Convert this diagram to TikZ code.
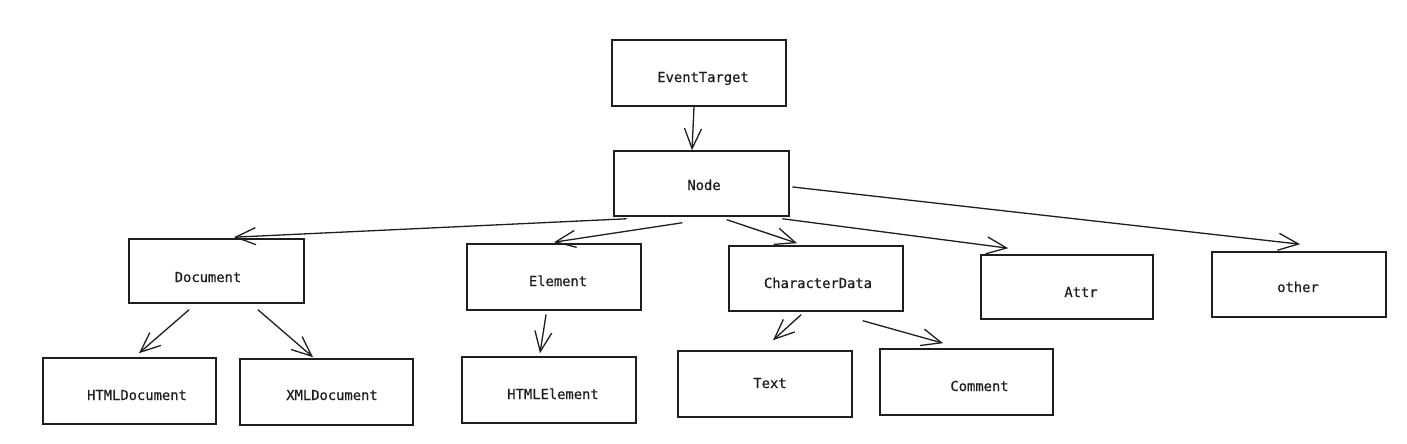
\documentclass[tikz,border=0pt]{standalone}
\usepackage{fontspec}
\setmonofont[FakeBold=0.6]{DejaVu Sans Mono}
\usetikzlibrary{arrows.meta}
\definecolor{ink}{HTML}{1E1E1E}
\tikzset{
  box/.style={draw=ink, line width=1.6pt, inner sep=0pt, fill=white},
  lbl/.style={anchor=base, inner sep=0pt, text=ink, font=\ttfamily\fontsize{13.8}{16}\selectfont},
  conn/.style={draw=ink, line width=1.3pt, line cap=round, line join=round,
    -{Straight Barb[length=20pt, width=17pt, line width=1.3pt]}}
}
\begin{document}
\begin{tikzpicture}[x=1pt, y=-1pt]
\useasboundingbox[fill=white] (0,0) rectangle (1407,444);
% boxes
\node[box, minimum width=174pt, minimum height=66pt] (et)   at (699,73)     {};
\node[box, minimum width=175pt, minimum height=65pt] (nd)   at (701.5,183.5) {};
\node[box, minimum width=175pt, minimum height=64pt] (doc)  at (216.5,271)  {};
\node[box, minimum width=173pt, minimum height=66pt] (hdoc) at (129.5,391)  {};
\node[box, minimum width=173pt, minimum height=66pt] (xdoc) at (326.5,392)  {};
\node[box, minimum width=174pt, minimum height=66pt] (el)   at (554,277)    {};
\node[box, minimum width=174pt, minimum height=66pt] (hel)  at (549,390)    {};
\node[box, minimum width=174pt, minimum height=65pt] (cd)   at (816,278.5)  {};
\node[box, minimum width=174pt, minimum height=66pt] (txt)  at (765,384)    {};
\node[box, minimum width=173pt, minimum height=66pt] (com)  at (966.5,382)  {};
\node[box, minimum width=172pt, minimum height=64pt] (attr) at (1067,287)   {};
\node[box, minimum width=174pt, minimum height=65pt] (oth)  at (1299,284.5) {};
% labels
\node[lbl] (tet)   at (703,82)    {EventTarget};
\node[lbl] (tnd)   at (704,190)   {Node};
\node[lbl] (tdoc)  at (208,282)   {Document};
\node[lbl] (thdoc) at (137,400)   {HTMLDocument};
\node[lbl] (txdoc) at (332,400)   {XMLDocument};
\node[lbl] (tel)   at (558,286)   {Element};
\node[lbl] (thel)  at (553,399)   {HTMLElement};
\node[lbl] (tcd)   at (818,288)   {CharacterData};
\node[lbl] (ttxt)  at (770,388)   {Text};
\node[lbl] (tcom)  at (979.5,391) {Comment};
\node[lbl] (tattr) at (1081,297)  {Attr};
\node[lbl] (toth)  at (1298,292)  {other};
% connectors
\draw[conn] ([shift={(-5,0)}]et.south) -- ([shift={(-9.5,0)}]nd.north);
\draw[conn] ([shift={(13,2)}]nd.south west) -- ([shift={(17.5,-1)}]doc.north);
\draw[conn] ([shift={(-19.5,6)}]nd.south) -- ([shift={(0,-1)}]el.north);
\draw[conn] ([shift={(25.5,3)}]nd.south) -- ([shift={(-19,-2)}]cd.north);
\draw[conn] ([shift={(-7,2)}]nd.south east) -- ([shift={(28,-6)}]attr.north west);
\draw[conn] ([shift={(3,3.5)}]nd.east) -- ([shift={(1,-7)}]oth.north);
\draw[conn] ([shift={(-27.5,6)}]doc.south) -- ([shift={(9.5,-4)}]hdoc.north);
\draw[conn] ([shift={(41.5,6)}]doc.south) -- ([shift={(-13.5,-1)}]xdoc.north);
\draw[conn] ([shift={(-8,4)}]el.south) -- ([shift={(-9,-3)}]hel.north);
\draw[conn] ([shift={(-15,3)}]cd.south) -- ([shift={(8,-10)}]txt.north);
\draw[conn] ([shift={(47,9)}]cd.south) -- ([shift={(-23.5,-5)}]com.north);
\end{tikzpicture}
\end{document}
